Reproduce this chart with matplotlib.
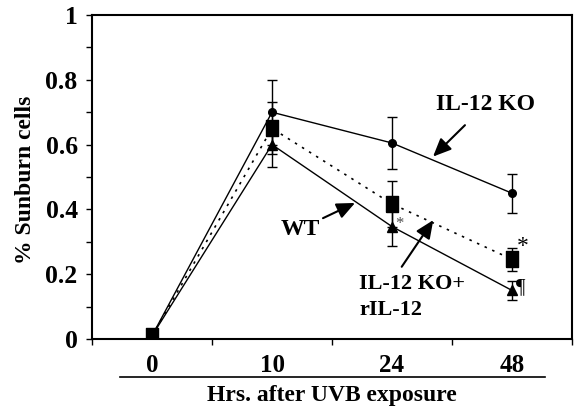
import matplotlib.pyplot as plt
import numpy as np

plt.rcParams['font.family'] = 'Liberation Serif'
plt.rcParams['font.weight'] = 'bold'

# dados
horas = ['0', '10', '24', '48']
ko = [0.01, 0.70, 0.605, 0.45]
ko_err = [0, 0.10, 0.08, 0.06]
ko_ril12 = [0.01, 0.65, 0.417, 0.246]
ko_ril12_err = [0, 0.08, 0.07, 0.035]
wt = [0.01, 0.60, 0.347, 0.15]
wt_err = [0, 0.07, 0.06, 0.03]

fig = plt.figure(figsize=(5.74, 4.09), dpi=100)
ax = fig.add_axes([0.1603, 0.1711, 0.8362, 0.7922])

x = np.arange(len(horas)) + 0.5

# marcador retangular (mais alto que largo)
retangulo = [(-0.37, -0.5), (0.37, -0.5), (0.37, 0.5), (-0.37, 0.5), (-0.37, -0.5)]

ax.errorbar(x, wt, yerr=wt_err, color='k', ls='-', lw=1.0, marker='^', ms=6.5,
            elinewidth=1.0, capsize=3.5, capthick=1.0, zorder=3)
ax.errorbar(x, ko, yerr=ko_err, color='k', ls='-', lw=1.0, marker='o', ms=5.5,
            elinewidth=1.0, capsize=3.5, capthick=1.0, zorder=3)
ax.errorbar(x, ko_ril12, yerr=ko_ril12_err, color='k', ls=(0, (1.5, 3.5)), lw=1.2,
            marker=retangulo, ms=11, elinewidth=1.0, capsize=3.5, capthick=1.0, zorder=4)

ax.set_xlim(0, 4)
ax.set_ylim(0, 1)

ax.set_xticks(x)
ax.set_xticklabels(horas, fontsize=18)
ax.set_xticks(np.arange(0, 5), minor=True)
ax.tick_params(axis='x', which='major', length=0, pad=11)
ax.tick_params(axis='x', which='minor', length=4.3, width=1.0, direction='out')

ax.set_yticks([0, 0.2, 0.4, 0.6, 0.8, 1])
ax.set_yticklabels(['0', '0.2', '0.4', '0.6', '0.8', '1'], fontsize=18.5)
ax.set_yticks(np.arange(0.1, 1.0, 0.2), minor=True)
ax.tick_params(axis='y', which='both', length=4.3, width=1.0, direction='out', pad=6)

for s in ax.spines.values():
    s.set_linewidth(1.5)

ax.set_xlabel('Hrs. after UVB exposure', fontsize=17, fontweight='bold', va='center')
ax.xaxis.set_label_coords(0.5, (339 - 395) / 324)
ax.set_ylabel('% Sunburn cells', fontsize=17, fontweight='bold', va='center')
ax.yaxis.set_label_coords(-0.1385, 0.49)

# linha abaixo dos rotulos do eixo x
ax.plot([0.233, 3.775], [-0.116, -0.116], color='k', lw=1.2,
        transform=ax.get_xaxis_transform(), clip_on=False)

# textos e setas
seta = dict(arrowstyle='-|>,head_length=0.5,head_width=0.22', color='k', lw=1.5,
            mutation_scale=22, shrinkA=0, shrinkB=0)
ax.text(3.283, 0.707, 'IL-12 KO', fontsize=17, ha='center', va='baseline')
ax.annotate('', xy=(2.842, 0.563), xytext=(3.108, 0.660), arrowprops=seta)
ax.text(1.733, 0.321, 'WT', fontsize=17, ha='center', va='baseline')
ax.annotate('', xy=(2.192, 0.420), xytext=(1.925, 0.373), arrowprops=seta)
ax.text(2.225, 0.153, 'IL-12 KO+', fontsize=16, ha='left', va='baseline')
ax.text(2.225, 0.074, 'rIL-12', fontsize=16, ha='left', va='baseline')
ax.annotate('', xy=(2.844, 0.367), xytext=(2.581, 0.223), arrowprops=seta)

ax.text(2.558, 0.343, '*', fontsize=12, fontweight='normal', ha='center', va='baseline', color='0.3')
ax.text(3.589, 0.268, '*', fontsize=17, fontweight='normal', ha='center', va='baseline')
ax.text(3.571, 0.145, '¶', fontsize=15, fontweight='normal', ha='center', va='baseline')

fig.savefig('out.png', dpi=100)
